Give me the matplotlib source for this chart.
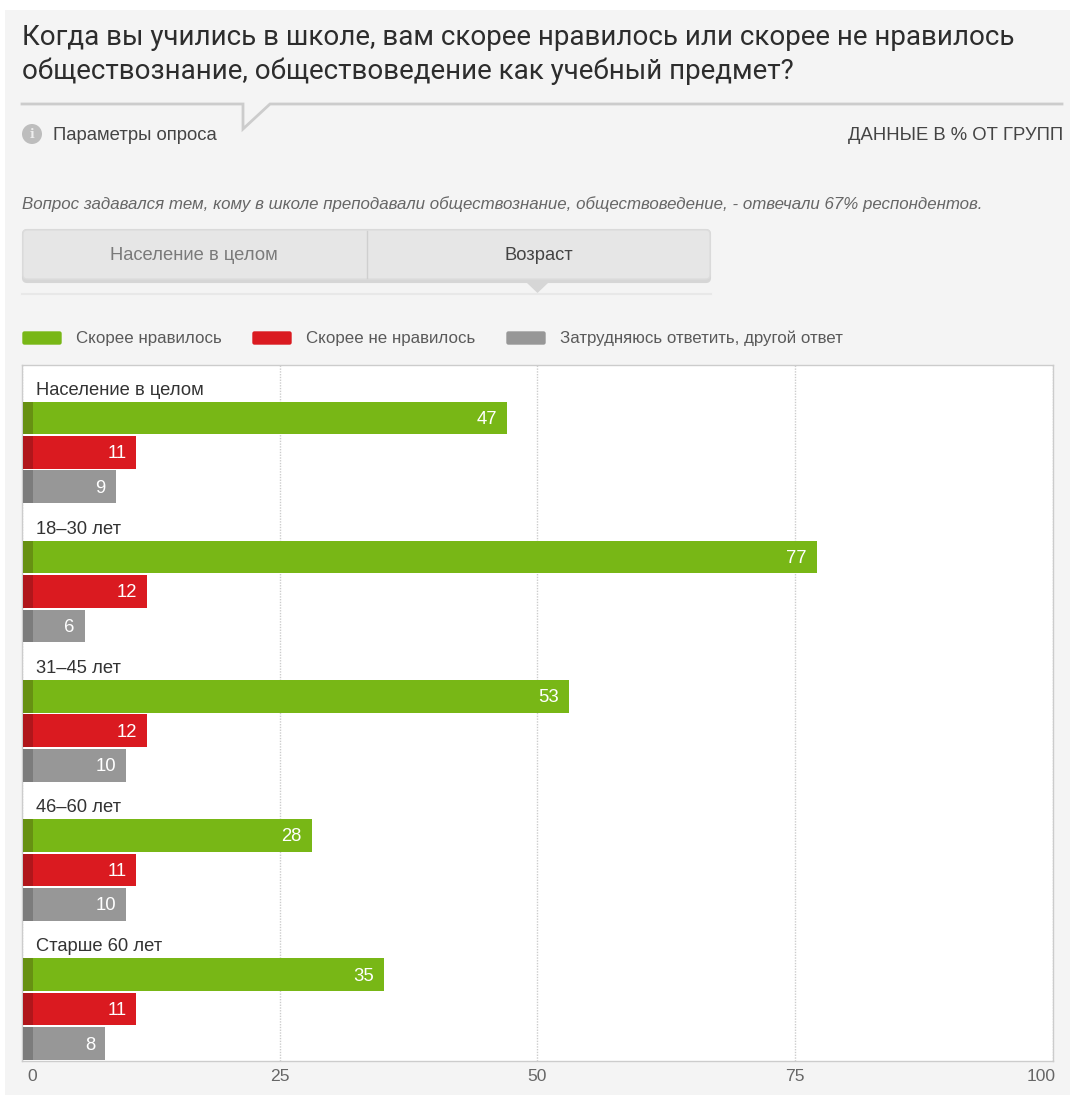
import numpy as np
import matplotlib
matplotlib.use('Agg')
import matplotlib.pyplot as plt
from matplotlib.patches import Rectangle, FancyBboxPatch, Polygon, Circle
from matplotlib.transforms import Affine2D

# данные опроса, % от групп
groups = ['Население в целом', '18–30 лет', '31–45 лет', '46–60 лет', 'Старше 60 лет']
liked = [47, 77, 53, 28, 35]
disliked = [11, 12, 12, 11, 11]
unsure = [9, 6, 10, 10, 8]
series_names = ['Скорее нравилось', 'Скорее не нравилось', 'Затрудняюсь ответить, другой ответ']
tabs = ['Население в целом', 'Возраст']
ticks = [0, 25, 50, 75, 100]

title = ('Когда вы учились в школе, вам скорее нравилось или скорее не нравилось\n'
         'обществознание, обществоведение как учебный предмет?')
note = ('Вопрос задавался тем, кому в школе преподавали обществознание, '
        'обществоведение, - отвечали 67% респондентов.')

W, H = 1070, 1095
green, red, grey = '#78b716', '#da1a20', '#979797'
green_d, red_d, grey_d = '#679012', '#b0161b', '#7c7c7c'
text_c = '#444444'

plt.rcParams['font.family'] = ['Liberation Sans', 'DejaVu Sans']
fig = plt.figure(figsize=(W / 100, H / 100), dpi=100, facecolor='white')

# фоновый слой в пикселях, ось y вниз
bg = fig.add_axes([0, 0, 1, 1])
bg.set_xlim(0, W)
bg.set_ylim(H, 0)
bg.axis('off')
bg.add_patch(Rectangle((5, 10), W - 5, H - 10, fc='#f4f4f4', ec='none'))

bg.text(22, 54.5, title, fontsize=20, family=['Roboto', 'DejaVu Sans'], color='#2d2d2d',
        va='center', ha='left', linespacing=1.26)

# линия-выноска под заголовком
bg.plot([22, 243, 243, 270, 1062], [104, 104, 129, 104, 104], color='#cccccc', lw=2,
        solid_joinstyle='miter')

bg.add_patch(Circle((32, 134), 10, fc='#bdbdbd', ec='none'))
bg.text(32, 134.5, 'i', color='#eeeeee', fontsize=9, fontweight='bold', ha='center', va='center',
        family=['DejaVu Serif'])
bg.text(53, 135, 'Параметры опроса', fontsize=13.3, color=text_c, va='center')
bg.text(1063, 135, 'ДАННЫЕ В % ОТ ГРУПП', fontsize=13.3, color=text_c, va='center', ha='right')
bg.text(22, 204, note, fontsize=12.2, color='#666666', style='italic', va='center')

# переключатель групп
bg.add_patch(FancyBboxPatch((23, 230), 687, 52, boxstyle='round,pad=0,rounding_size=4',
                            fc='#d6d6d6', ec='#d6d6d6', lw=1.5))
bg.add_patch(FancyBboxPatch((23, 230), 687, 49, boxstyle='round,pad=0,rounding_size=4',
                            fc='#e6e6e6', ec='#dcdcdc', lw=1))
bg.plot([367, 367], [231, 278], color='#cfcfcf', lw=1)
bg.plot([22, 711], [294, 294], color='#e8e8e8', lw=1.5)
bg.add_patch(Polygon([[527, 283], [548, 283], [537.5, 293]], fc='#d6d6d6', ec='none'))
bg.text(194, 256, tabs[0], fontsize=13.2, color='#7a7a7a', ha='center', va='center')
bg.text(539, 256, tabs[1], fontsize=13.2, color=text_c, ha='center', va='center')

# легенда
for x0, xt, c, name in zip([23, 253, 507], [76, 306, 560], [green, red, grey], series_names):
    bg.add_patch(FancyBboxPatch((x0, 332), 38, 12, boxstyle='round,pad=0,rounding_size=1.5',
                                fc=c, ec=c, lw=1))
    bg.text(xt, 338, name, fontsize=12.15, color='#5a5a5a', va='center')

# сам график
ax = fig.add_axes([22 / W, 1 - 1061 / H, 1030.5 / W, 696 / H], facecolor='white')
ax.set_xlim(0, 100)
ax.set_ylim(4.5, -0.5)
ax.set_axisbelow(True)
ax.set_xticks(ticks)
ax.set_yticks([])
ax.grid(axis='x', color='#cccccc', lw=1, ls=(0, (1, 1)))
for s in ax.spines.values():
    s.set_color('#cccccc')
    s.set_linewidth(1)
ax.tick_params(axis='x', length=0, pad=6, labelsize=12.6, labelcolor='#666666')
# крайние подписи оси сдвинуты внутрь
labels = ax.get_xticklabels()
labels[0].set_transform(labels[0].get_transform() + Affine2D().translate(10, 0))
labels[-1].set_transform(labels[-1].get_transform() + Affine2D().translate(-11, 0))

y = np.arange(len(groups))
bar_h = 0.235
bar_x0 = 0.1
for vals, off, c, cd in [(liked, -0.12, green, green_d),
                         (disliked, 0.127, red, red_d),
                         (unsure, 0.375, grey, grey_d)]:
    ax.barh(y + off, vals, left=bar_x0, height=bar_h, color=c, zorder=2)
    ax.barh(y + off, [1] * len(vals), left=bar_x0, height=bar_h, color=cd, zorder=3)
    for yi, v in zip(y, vals):
        ax.annotate(str(v), (v, yi + off), xytext=(-9, -1.5), textcoords='offset pixels',
                    color='white', fontsize=13.3, ha='right', va='center', zorder=4)

for yi, g in zip(y, groups):
    ax.annotate(g, (0, yi - 0.32), xytext=(14, 0), textcoords='offset pixels',
                color='#333333', fontsize=13.25, va='center', zorder=4)

fig.savefig('out.png', dpi=100, facecolor='white')
